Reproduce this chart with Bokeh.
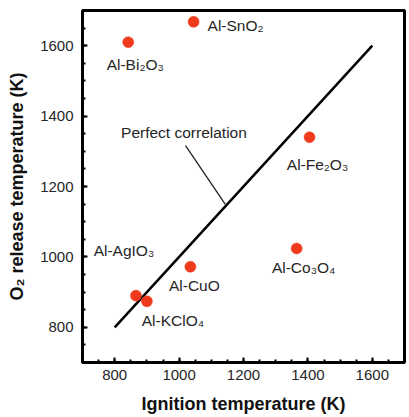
from bokeh.plotting import figure
from bokeh.models import ColumnDataSource, Range1d, SingleIntervalTicker, Label
from bokeh.core.properties import value
from bokeh.embed import file_html
from bokeh.resources import INLINE

# ---- data ----
systems = ["Al-SnO₂", "Al-Bi₂O₃", "Al-Fe₂O₃", "Al-Co₃O₄", "Al-CuO", "Al-AgIO₃", "Al-KClO₄"]
ignition_T = [1045, 842, 1405, 1365, 1035, 866, 900]
o2_release_T = [1668, 1610, 1340, 1024, 972, 890, 874]

corr_x = [800, 1600]
corr_y = [800, 1600]

x_ticks_interval = 200
y_ticks_interval = 200

# label placement styles (screen px offsets from each point)
label_dx = [14, 7, 8, 7, 4, -12, 26]
label_dy = [4, 22, 27, 19, 19, -45, 19]
label_align = ["left", "center", "center", "center", "center", "center", "center"]

FONT = "Liberation Sans"
TXT = "#262626"

p = figure(width=409, height=417,
           x_range=Range1d(700, 1700), y_range=Range1d(700, 1700),
           output_backend="svg", toolbar_location=None,
           min_border_left=82, min_border_right=5,
           min_border_top=10, min_border_bottom=55)

p.xgrid.visible = False
p.ygrid.visible = False
p.outline_line_color = "black"
p.outline_line_width = 3
p.outline_line_alpha = 1.0
p.background_fill_color = "white"
p.border_fill_color = "white"

p.xaxis.ticker = SingleIntervalTicker(interval=x_ticks_interval, num_minor_ticks=4)
p.yaxis.ticker = SingleIntervalTicker(interval=y_ticks_interval, num_minor_ticks=4)

for ax in (p.xaxis, p.yaxis):
    ax.axis_line_color = None
    ax.major_tick_in = 5
    ax.major_tick_out = 0
    ax.minor_tick_in = 3
    ax.minor_tick_out = 0
    ax.major_tick_line_width = 2
    ax.minor_tick_line_width = 2
    ax.major_tick_line_color = "black"
    ax.minor_tick_line_color = "black"
    ax.major_label_text_font = FONT
    ax.major_label_text_font_size = "15px"
    ax.major_label_text_color = TXT
    ax.axis_label_text_font = FONT
    ax.axis_label_text_font_size = "18px"
    ax.axis_label_text_font_style = "bold"
    ax.axis_label_text_color = "#111111"

p.xaxis.axis_label = "Ignition temperature (K)"
p.yaxis.axis_label = "O₂ release temperature (K)"
p.xaxis.major_label_standoff = 7
p.xaxis.axis_label_standoff = 11
p.yaxis.major_label_standoff = 9
p.yaxis.axis_label_standoff = 10

# perfect correlation line
p.line(corr_x, corr_y, line_color="black", line_width=2.5)

# leader line + annotation text
p.line([1020, 1143], [1316, 1150], line_color="#222222", line_width=1.3)
p.add_layout(Label(x=1015, y=1352, text="Perfect correlation",
                   text_font=FONT, text_font_size="15.5px", text_color=TXT,
                   text_align="center", text_baseline="middle"))

src = ColumnDataSource(dict(x=ignition_T, y=o2_release_T, label=systems,
                            dx=label_dx, dy=label_dy, align=label_align))

p.scatter("x", "y", source=src, size=11, fill_color="#F03A1C",
          line_color="#F03A1C", line_width=0.5)

p.text("x", "y", text="label", source=src, x_offset="dx", y_offset="dy",
       text_align="align", text_baseline="middle",
       text_font=value(FONT), text_font_size="15.5px", text_color=TXT)

open("out.html", "w").write(file_html(p, INLINE))
